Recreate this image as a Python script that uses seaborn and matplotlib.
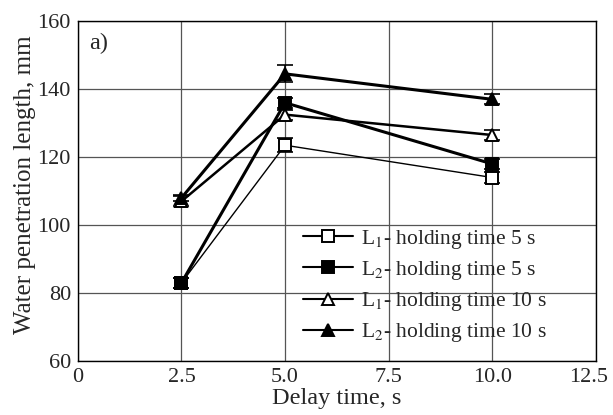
import pandas as pd
import numpy as np
import matplotlib.pyplot as plt
import matplotlib.transforms as mtransforms
import seaborn as sns

# Data
delay = [2.5, 5.0, 10.0]
series_names = [r'L$_1$- holding time 5 s', r'L$_2$- holding time 5 s',
                r'L$_1$- holding time 10 s', r'L$_2$- holding time 10 s']
l1_5s = [83, 123.5, 114]
l2_5s = [83, 136, 118]
l1_10s = [107, 132.5, 126.5]
l2_10s = [108, 144.5, 137]
err_l1_5s = [1.5, 2, 1.5]
err_l2_5s = [1.5, 1.5, 1.5]
err_l1_10s = [1.5, 1.5, 1.5]
err_l2_10s = [1, 2.5, 1.5]

values = [l1_5s, l2_5s, l1_10s, l2_10s]
errors = [err_l1_5s, err_l2_5s, err_l1_10s, err_l2_10s]

df = pd.DataFrame({
    'delay': delay * 4,
    'length': sum(values, []),
    'series': np.repeat(series_names, len(delay)),
})

sns.set_style('white')
plt.rcParams['font.family'] = ['Liberation Serif', 'DejaVu Serif']
plt.rcParams['mathtext.fontset'] = 'stix'

fig = plt.figure(figsize=(6.13, 4.15), dpi=100)
ax = fig.add_axes([0.127, 0.130, 0.845, 0.819])

markers = ['s', 's', '^', '^']
faces = ['white', 'black', 'white', 'black']
widths = [1.0, 2.2, 1.8, 2.2]

for name, mk, fc, lw, v, e in zip(series_names, markers, faces, widths, values, errors):
    sub = df[df['series'] == name]
    sns.lineplot(data=sub, x='delay', y='length', ax=ax, color='black', lw=lw,
                 marker=mk, markersize=9, markerfacecolor=fc, markeredgecolor='black',
                 markeredgewidth=1.4, label=name, zorder=3)
    ax.errorbar(delay, v, yerr=e, fmt='none', ecolor='black', elinewidth=1.2,
                capsize=6, capthick=1.2, zorder=2)

ax.set_xlim(0, 12.5)
ax.set_ylim(60, 160)
ax.set_xticks([0, 2.5, 5.0, 7.5, 10.0, 12.5])
ax.set_xticklabels(['0', '2.5', '5.0', '7.5', '10.0', '12.5'])
ax.set_yticks(range(60, 161, 20))
ax.tick_params(labelsize=16, length=0, pad=5)
ax.grid(True, color='#555555', lw=0.9)
for s in ax.spines.values():
    s.set_color('black')
    s.set_linewidth(1.0)

# nudge the last x label so it stays inside the figure
last = ax.get_xticklabels()[-1]
last.set_transform(last.get_transform() +
                   mtransforms.ScaledTranslation(-5 / 72, 0, fig.dpi_scale_trans))

ax.set_xlabel('Delay time, s', fontsize=17.5, labelpad=1)
ax.set_ylabel('Water penetration length, mm', fontsize=18)
ax.yaxis.set_label_coords(-0.08, 0.52)
ax.text(0.27, 153.5, 'a)', fontsize=17.5, va='center')

leg = ax.legend(loc='lower right', bbox_to_anchor=(0.943, -0.008), frameon=False,
                fontsize=15.5, handlelength=2.3, labelspacing=0.38, handletextpad=0.4)
for h in leg.legend_handles:
    h.set_linewidth(1.5)

fig.savefig('out.png', dpi=100)
